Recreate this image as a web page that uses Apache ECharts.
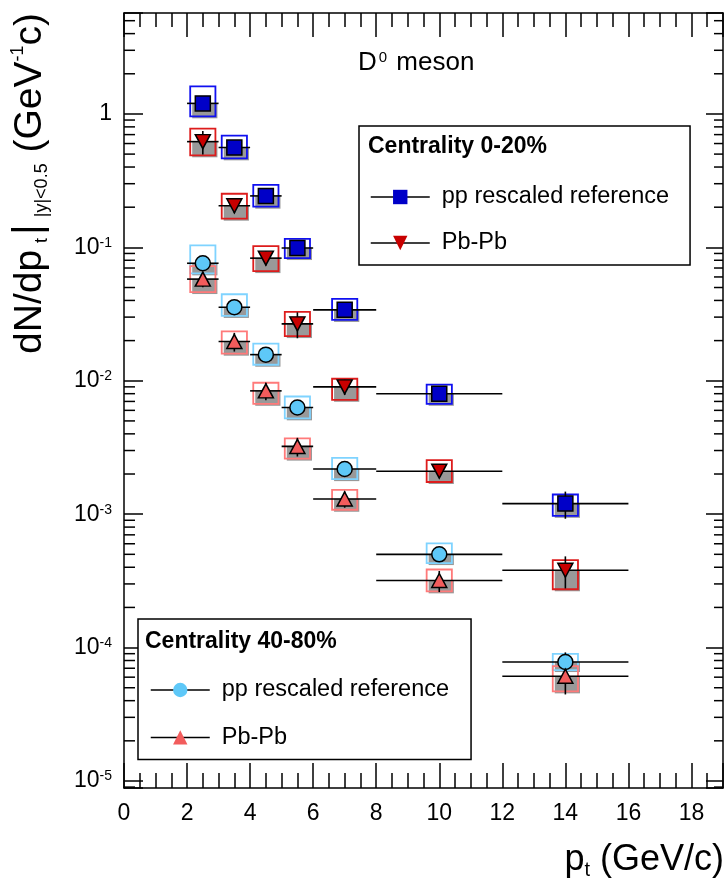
<!DOCTYPE html>
<html><head><meta charset="utf-8">
<script src="https://cdn.jsdelivr.net/npm/echarts@6/dist/echarts.min.js"></script>
<style>html,body{margin:0;padding:0;background:#fff}#chart{width:726px;height:890px}</style>
</head><body><div id="chart"></div>
<script>
// ---- data (pt bins, GeV/c) ----
const ptCenters = [2.5, 3.5, 4.5, 5.5, 7, 10, 14];
const ptLow     = [2, 3, 4, 5, 6, 8, 12];
const ptHigh    = [3, 4, 5, 6, 8, 12, 16];

// Centrality 0-20%: pp rescaled reference
const ppRef020       = [1.2, 0.56, 0.243, 0.099, 0.034, 0.0080, 0.0012];
const ppRef020Stat   = [0.02, 0.03, 0.04, 0.05, 0.07, 0.10, 0.23];
const ppRef020SysUp  = [0.34, 0.23, 0.21, 0.17, 0.21, 0.17, 0.17];
const ppRef020SysDn  = [0.20, 0.17, 0.17, 0.16, 0.16, 0.16, 0.19];
// Centrality 0-20%: Pb-Pb
const pbpb020        = [0.62, 0.205, 0.083, 0.0267, 0.009, 0.0021, 0.00038];
const pbpb020Stat    = [0.20, 0.12, 0.12, 0.22, 0.13, 0.10, 0.27];
const pbpb020SysUp   = [0.25, 0.23, 0.23, 0.23, 0.15, 0.21, 0.19];
const pbpb020SysDn   = [0.21, 0.20, 0.20, 0.19, 0.20, 0.17, 0.28];
// Centrality 40-80%: pp rescaled reference
const ppRef4080      = [0.076, 0.0356, 0.0157, 0.0063, 0.00218, 0.0005, 0.000078];
const ppRef4080Stat  = [0.05, 0.05, 0.05, 0.06, 0.08, 0.10, 0.18];
const ppRef4080SysUp = [0.36, 0.25, 0.21, 0.21, 0.21, 0.21, 0.15];
const ppRef4080SysDn = [0.16, 0.14, 0.16, 0.17, 0.16, 0.14, 0.13];
// Centrality 40-80%: Pb-Pb
const pbpb4080       = [0.0578, 0.0197, 0.0084, 0.00322, 0.0013, 0.000318, 0.000061];
const pbpb4080Stat   = [0.13, 0.16, 0.15, 0.16, 0.14, 0.18, 0.27];
const pbpb4080SysUp  = [0.25, 0.19, 0.15, 0.15, 0.17, 0.21, 0.19];
const pbpb4080SysDn  = [0.20, 0.19, 0.20, 0.19, 0.17, 0.17, 0.23];

const xTickLabels = [0, 2, 4, 6, 8, 10, 12, 14, 16, 18];
const yDecades = [-5, -4, -3, -2, -1, 0];
const minorMultipliers = [2, 3, 4, 5, 6, 7, 8, 9];

// ---- layout / style constants ----
const X_MIN = 0, X_MAX = 19;
const Y_MIN = 8.86e-6, Y_MAX = 5.71;
const BOX_HALF = 0.4;
const GRAY_UP = 0.04;
const FONT = "'Liberation Sans', Arial, Helvetica, sans-serif";

const chart = echarts.init(document.getElementById('chart'), null, {renderer: 'canvas'});

function rows(vals, stat, up, dn) {
  return ptCenters.map((x, i) => [x, vals[i], ptLow[i], ptHigh[i], stat[i], up[i], dn[i]]);
}

function boxSeries(name, data, boxColor) {
  return {
    type: 'custom', name: name, xAxisIndex: 0, yAxisIndex: 0, z: 2, silent: true,
    encode: {x: 0, y: 1},
    data: data,
    renderItem: function (params, api) {
      const x = api.value(0), v = api.value(1), lo = api.value(2), hi = api.value(3);
      const st = api.value(4), su = api.value(5), sd = api.value(6);
      const c = api.coord([x, v]);
      const xl = api.coord([x - BOX_HALF, v])[0], xr = api.coord([x + BOX_HALF, v])[0];
      const yT = api.coord([x, v * (1 + su)])[1], yB = api.coord([x, v * (1 - sd)])[1];
      const gT = api.coord([x, v * (1 + GRAY_UP)])[1];
      const eL = api.coord([lo, v])[0], eR = api.coord([hi, v])[0];
      const sT = api.coord([x, v * (1 + st)])[1], sB = api.coord([x, v * (1 - st)])[1];
      return {type: 'group', children: [
        {type: 'rect', shape: {x: xl + 2, y: gT + 2, width: xr - xl, height: yB - gT}, style: {fill: '#999999'}},
        {type: 'rect', shape: {x: xl, y: yT, width: xr - xl, height: yB - yT}, style: {fill: 'none', stroke: boxColor, lineWidth: 1.8}},
        {type: 'line', shape: {x1: eL, y1: c[1], x2: eR, y2: c[1]}, style: {stroke: '#000', lineWidth: 1.6}},
        {type: 'line', shape: {x1: c[0], y1: sT, x2: c[0], y2: sB}, style: {stroke: '#000', lineWidth: 1.6}}
      ]};
    }
  };
}

function markerSeries(name, vals, symbol, size, rotate, color) {
  return {
    type: 'line', name: name, xAxisIndex: 0, yAxisIndex: 0, z: 4,
    data: ptCenters.map((x, i) => [x, vals[i]]),
    symbol: symbol, symbolSize: size, symbolRotate: rotate, showSymbol: true,
    lineStyle: {width: 0, color: '#000'},
    itemStyle: {color: color, borderColor: '#000', borderWidth: 1.5},
    emphasis: {disabled: true}
  };
}

const minorTickData = [];
yDecades.concat([-6]).forEach(n => minorMultipliers.forEach(m => {
  const v = m * Math.pow(10, n);
  if (v > Y_MIN && v < Y_MAX) minorTickData.push([X_MIN, v]);
}));

const NAME_PP020 = 'pp rescaled reference|0-20%';
const NAME_PB020 = 'Pb-Pb|0-20%';
const NAME_PP4080 = 'pp rescaled reference|40-80%';
const NAME_PB4080 = 'Pb-Pb|40-80%';

const legendCommon = {
  orient: 'vertical', selectedMode: false, itemWidth: 59, itemHeight: 18,
  borderColor: '#000', borderWidth: 1.5, backgroundColor: '#fff',
  formatter: n => n.split('|')[0],
  textStyle: {fontSize: 23.5, color: '#000', fontFamily: FONT, padding: [0, 0, 0, 7]},
  lineStyle: {color: '#000', width: 1.5, opacity: 1, type: 'solid'},
  itemStyle: {borderWidth: 0}
};

const tickStyle = {color: '#000', width: 1.5};

const option = {
  animation: false,
  backgroundColor: '#fff',
  grid: {left: 124, top: 13, width: 601, height: 775, containLabel: false},
  xAxis: [
    {type: 'value', position: 'bottom', min: X_MIN, max: X_MAX, interval: 2,
     axisLine: {show: true, onZero: false, lineStyle: tickStyle},
     axisTick: {show: true, inside: true, length: 25, lineStyle: tickStyle},
     axisLabel: {show: true, fontSize: 23, color: '#000', fontFamily: FONT, margin: 14,
                 formatter: v => xTickLabels.indexOf(v) >= 0 ? String(v) : ''},
     splitLine: {show: false}},
    {type: 'value', position: 'bottom', min: X_MIN, max: X_MAX, interval: 0.5,
     axisLine: {show: false}, axisTick: {show: true, inside: true, length: 15, lineStyle: tickStyle},
     axisLabel: {show: false}, splitLine: {show: false}},
    {type: 'value', position: 'top', min: X_MIN, max: X_MAX, interval: 2,
     axisLine: {show: true, onZero: false, lineStyle: tickStyle},
     axisTick: {show: true, inside: true, length: 24, lineStyle: tickStyle},
     axisLabel: {show: false}, splitLine: {show: false}},
    {type: 'value', position: 'top', min: X_MIN, max: X_MAX, interval: 0.5,
     axisLine: {show: false}, axisTick: {show: true, inside: true, length: 14, lineStyle: tickStyle},
     axisLabel: {show: false}, splitLine: {show: false}}
  ],
  yAxis: [
    {type: 'log', logBase: 10, position: 'left', min: Y_MIN, max: Y_MAX,
     axisLine: {show: true, onZero: false, lineStyle: tickStyle},
     axisTick: {show: true, inside: true, length: 19, lineStyle: tickStyle},
     axisLabel: {show: true, fontSize: 23, color: '#000', fontFamily: FONT, margin: 12,
       formatter: function (v) {
         const e = Math.log10(v), r = Math.round(e);
         if (Math.abs(e - r) > 1e-6 || yDecades.indexOf(r) < 0) return '';
         if (r === 0) return '1';
         return '10{sup|' + r + '}';
       },
       rich: {sup: {fontSize: 14, fontFamily: FONT, color: '#000', verticalAlign: 'top', lineHeight: 14}}},
     splitLine: {show: false}},
    {type: 'log', logBase: 10, position: 'right', min: Y_MIN, max: Y_MAX,
     axisLine: {show: true, onZero: false, lineStyle: tickStyle},
     axisTick: {show: true, inside: true, length: 17, lineStyle: tickStyle},
     axisLabel: {show: false}, splitLine: {show: false}}
  ],
  legend: [
    Object.assign({}, legendCommon, {left: 359, top: 126, padding: [59, 21, 10, 11], itemGap: 22,
      data: [NAME_PP020, NAME_PB020]}),
    Object.assign({}, legendCommon, {left: 138, top: 619, padding: [59, 22, 10, 12], itemGap: 23.4,
      data: [NAME_PP4080, NAME_PB4080]})
  ],
  graphic: [
    {type: 'text', x: 358, y: 63, z: 10, style: {
      text: 'D{sup|0} meson', fontSize: 26, fontFamily: FONT, fill: '#000', verticalAlign: 'middle', align: 'left',
      rich: {sup: {fontSize: 15, fontFamily: FONT, fill: '#000', verticalAlign: 'top', lineHeight: 15, padding: [0, 2, 0, 2]}}}},
    {type: 'text', x: 368, y: 147, z: 10, style: {
      text: 'Centrality 0-20%', fontSize: 23, fontWeight: 'bold', fontFamily: FONT, fill: '#000', verticalAlign: 'middle', align: 'left'}},
    {type: 'text', x: 145, y: 642, z: 10, style: {
      text: 'Centrality 40-80%', fontSize: 23, fontWeight: 'bold', fontFamily: FONT, fill: '#000', verticalAlign: 'middle', align: 'left'}},
    {type: 'text', x: 724, y: 860, z: 10, style: {
      text: '{m|p}{s|t}{m| (GeV/c)}', align: 'right', verticalAlign: 'middle', fill: '#000',
      rich: {m: {fontSize: 36, fontFamily: FONT, fill: '#000', lineHeight: 40},
             s: {fontSize: 20, fontFamily: FONT, fill: '#000', verticalAlign: 'bottom', lineHeight: 26}}}},
    {type: 'text', x: 30, y: 13, rotation: Math.PI / 2, z: 10, style: {
      text: '{m|dN/dp}{st|t}{bar||}{s||y|<0.5}{m| (GeV}{p|-1}{m|c)}', align: 'right', verticalAlign: 'middle', fill: '#000',
      rich: {m: {fontSize: 39, fontFamily: FONT, fill: '#000', lineHeight: 42},
             bar: {fontSize: 41, fontFamily: FONT, fill: '#000', lineHeight: 42, padding: [0, 7, 0, 0]},
             st: {fontSize: 18, fontFamily: FONT, fill: '#000', verticalAlign: 'bottom', lineHeight: 24, padding: [0, 3, 0, 7]},
             s: {fontSize: 18, fontFamily: FONT, fill: '#000', verticalAlign: 'bottom', lineHeight: 24},
             p: {fontSize: 18, fontFamily: FONT, fill: '#000', verticalAlign: 'top', lineHeight: 18}}}}
  ],
  series: [
    {type: 'custom', name: 'minor ticks', xAxisIndex: 0, yAxisIndex: 0, z: 3, silent: true,
     encode: {x: 0, y: 1}, data: minorTickData,
     renderItem: function (params, api) {
       const p = api.coord([X_MIN, api.value(1)]);
       const q = api.coord([X_MAX, api.value(1)]);
       return {type: 'group', children: [
         {type: 'line', shape: {x1: p[0], y1: p[1], x2: p[0] + 11, y2: p[1]}, style: {stroke: '#000', lineWidth: 1.5}},
         {type: 'line', shape: {x1: q[0], y1: q[1], x2: q[0] - 9, y2: q[1]}, style: {stroke: '#000', lineWidth: 1.5}}
       ]};
     }},
    boxSeries('box pp 40-80', rows(ppRef4080, ppRef4080Stat, ppRef4080SysUp, ppRef4080SysDn), '#7fd3ff'),
    boxSeries('box PbPb 40-80', rows(pbpb4080, pbpb4080Stat, pbpb4080SysUp, pbpb4080SysDn), '#ff7a7a'),
    boxSeries('box pp 0-20', rows(ppRef020, ppRef020Stat, ppRef020SysUp, ppRef020SysDn), '#1010f0'),
    boxSeries('box PbPb 0-20', rows(pbpb020, pbpb020Stat, pbpb020SysUp, pbpb020SysDn), '#dd1c1c'),
    markerSeries(NAME_PP4080, ppRef4080, 'circle', 15, 0, '#5ec8f8'),
    markerSeries(NAME_PB4080, pbpb4080, 'triangle', [15, 14], 0, '#f25c5c'),
    markerSeries(NAME_PP020, ppRef020, 'rect', 15, 0, '#0000c8'),
    markerSeries(NAME_PB020, pbpb020, 'triangle', [15, 14], 180, '#c80000')
  ]
};
chart.setOption(option);
</script></body></html>
